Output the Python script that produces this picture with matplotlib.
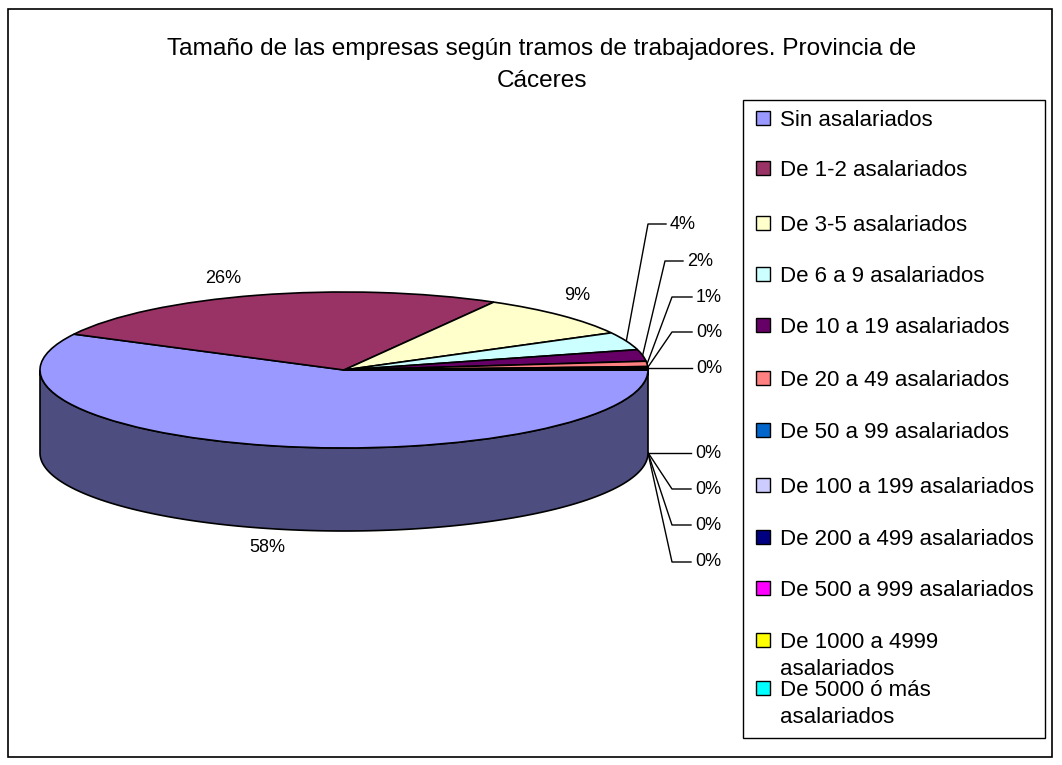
import numpy as np
import matplotlib
matplotlib.use('Agg')
import matplotlib.pyplot as plt
from matplotlib.patches import Rectangle, Polygon
from matplotlib.colors import to_rgb

plt.rcParams['font.family'] = ['Liberation Sans', 'DejaVu Sans']

# datos (porcentaje de empresas por tramo)
categorias = ['Sin asalariados', 'De 1-2 asalariados', 'De 3-5 asalariados',
              'De 6 a 9 asalariados', 'De 10 a 19 asalariados', 'De 20 a 49 asalariados',
              'De 50 a 99 asalariados', 'De 100 a 199 asalariados', 'De 200 a 499 asalariados',
              'De 500 a 999 asalariados', 'De 1000 a 4999\nasalariados', 'De 5000 ó más\nasalariados']
porcentajes = [57.6, 25.6, 8.9, 3.7, 2.4, 1.1, 0.3, 0.2, 0.1, 0.05, 0.03, 0.02]
colores = ['#9999FF', '#993366', '#FFFFCC', '#CCFFFF', '#660066', '#FF8080',
           '#0066CC', '#CCCCFF', '#000080', '#FF00FF', '#FFFF00', '#00FFFF']
titulo = 'Tamaño de las empresas según tramos de trabajadores. Provincia de\nCáceres'

W, H = 1062, 765
cx, cy, rx, ry = 344, 370, 304, 78   # elipse superior en pixeles
depth = 83                            # grosor del "queso"
prof = depth / ry

fig = plt.figure(figsize=(W / 100, H / 100), dpi=100)
over = fig.add_axes([0, 0, 1, 1])
over.set_xlim(0, W)
over.set_ylim(H, 0)
over.axis('off')

# ejes de la tarta, aplastados para dar la perspectiva
x0, x1, y0, y1 = -1.1, 1.1, -2.3, 1.2
left_px = cx + x0 * rx
top_px = cy - y1 * ry
w_px = (x1 - x0) * rx
h_px = (y1 - y0) * ry
ax = fig.add_axes([left_px / W, 1 - (top_px + h_px) / H, w_px / W, h_px / H])
wedges, _ = ax.pie(porcentajes, colors=colores, startangle=0, counterclock=False,
                   wedgeprops=dict(edgecolor='black', linewidth=1.2, zorder=2))
ax.set_aspect('auto')
ax.set_xlim(x0, x1)
ax.set_ylim(y0, y1)
ax.axis('off')

# pared lateral (solo la mitad delantera se ve)
for w, c in zip(wedges, colores):
    a = max(w.theta1, -180)
    b = min(w.theta2, 0)
    if b - a <= 0:
        continue
    t = np.radians(np.linspace(a, b, 200))
    xs = np.concatenate([np.cos(t), np.cos(t[::-1])])
    ys = np.concatenate([np.sin(t), np.sin(t[::-1]) - prof])
    oscuro = tuple(0.5 * v for v in to_rgb(c))
    ax.add_patch(Polygon(np.column_stack([xs, ys]), closed=True, facecolor=oscuro,
                         edgecolor='black', linewidth=1.2, zorder=1))

# etiquetas de porcentaje
pos_grandes = {0: (267, 547), 1: (223, 278), 2: (577, 295)}
# (x texto, y texto, x del codo, debajo)
pos_chicas = [(670, 224, 648, False), (687, 261, 665, False), (696, 297, 672, False),
              (696, 332, 672, False), (696, 368, None, False), (695, 453, None, True),
              (695, 489, 672, True), (695, 525, 672, True), (695, 562, 672, True)]

for i, (w, p) in enumerate(zip(wedges, porcentajes)):
    txt = '%.0f%%' % p
    if i in pos_grandes:
        tx, ty = pos_grandes[i]
        over.text(tx, ty, txt, ha='center', va='center', fontsize=13)
        continue
    tx, ty, ex, abajo = pos_chicas[i - 3]
    mid = np.radians((w.theta1 + w.theta2) / 2)
    axp = cx + rx * np.cos(mid)
    ayp = cy - ry * np.sin(mid) + (depth if abajo else 0)
    if ex is None:
        over.plot([axp, tx - 4], [ty, ty], color='black', lw=1)
    else:
        over.plot([axp, ex, tx - 4], [ayp, ty, ty], color='black', lw=1)
    over.text(tx, ty, txt, ha='left', va='center', fontsize=13)

# titulo
over.text(542, 65, titulo, ha='center', va='center', fontsize=17.6, linespacing=1.6)

# leyenda
over.add_patch(Rectangle((743, 100), 302, 638, facecolor='white', edgecolor='black', lw=1))
ley_y = [118, 168, 223, 274, 325, 378, 430, 485, 537, 588, 640, 688]
for lab, c, y in zip(categorias, colores, ley_y):
    over.add_patch(Rectangle((756, y - 7), 14, 14, facecolor=c, edgecolor='black', lw=1))
    over.text(780, y - 8, lab, ha='left', va='top', fontsize=16, linespacing=1.4)

# borde del grafico
over.add_patch(Rectangle((8, 9), 1044, 748, fill=False, edgecolor='black', lw=1.2))

fig.savefig('out.png', dpi=100)
